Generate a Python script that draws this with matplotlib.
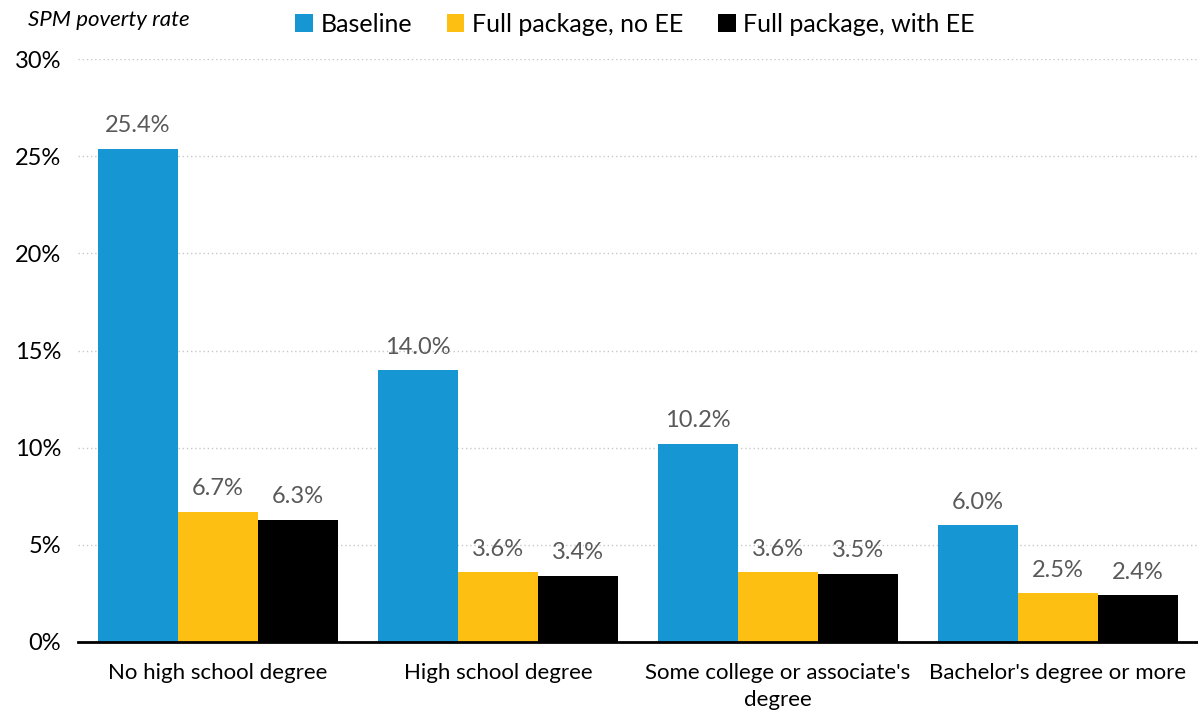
import numpy as np
import matplotlib.pyplot as plt

plt.rcParams['font.family'] = ['Lato', 'DejaVu Sans']

categories = ["No high school degree", "High school degree",
              "Some college or associate's\ndegree", "Bachelor's degree or more"]
series = ["Baseline", "Full package, no EE", "Full package, with EE"]
baseline = [25.4, 14.0, 10.2, 6.0]
no_ee = [6.7, 3.6, 3.6, 2.5]
with_ee = [6.3, 3.4, 3.5, 2.4]
colors = ["#1696d2", "#fdbf11", "#000000"]

fig = plt.figure(figsize=(11.98, 7.13), dpi=100)
ax = fig.add_axes([0.065, 0.0996, 0.935, 0.8174])

x = np.arange(len(categories))
w = 0.285
for i, (vals, name) in enumerate(zip([baseline, no_ee, with_ee], series)):
    bars = ax.bar(x + (i - 1) * w, vals, w, color=colors[i], label=name, zorder=3)
    for b, v in zip(bars, vals):
        ax.annotate(f"{v:.1f}%", (b.get_x() + b.get_width() / 2, v),
                    xytext=(0, 9), textcoords='offset points',
                    ha='center', va='bottom', fontsize=17, color='#595959')

ax.set_xlim(-0.5, 3.5)
ax.set_ylim(0, 30)
ax.set_yticks(range(0, 31, 5))
ax.set_yticklabels([f"{t}%" for t in range(0, 31, 5)])
ax.set_xticks(x)
ax.set_xticklabels(categories, linespacing=1.45)
ax.tick_params(axis='both', length=0, colors='#000000')
ax.tick_params(axis='y', pad=12, labelsize=17)
ax.tick_params(axis='x', pad=15, labelsize=16)

ax.grid(axis='y', linestyle=(0, (1, 2)), color='#c8c8c8', linewidth=1, zorder=0)
for s in ['top', 'right', 'left']:
    ax.spines[s].set_visible(False)
ax.spines['bottom'].set_linewidth(2)
ax.spines['bottom'].set_zorder(4)

fig.text(0.023, 0.972, "SPM poverty rate", style='italic', fontsize=16, va='center')
fig.legend(loc='center', bbox_to_anchor=(0.53, 0.966), ncol=3, frameon=False,
           fontsize=18, handlelength=0.7, handleheight=0.7, handletextpad=0.3,
           columnspacing=1.4)

fig.savefig("out.png", dpi=100)
